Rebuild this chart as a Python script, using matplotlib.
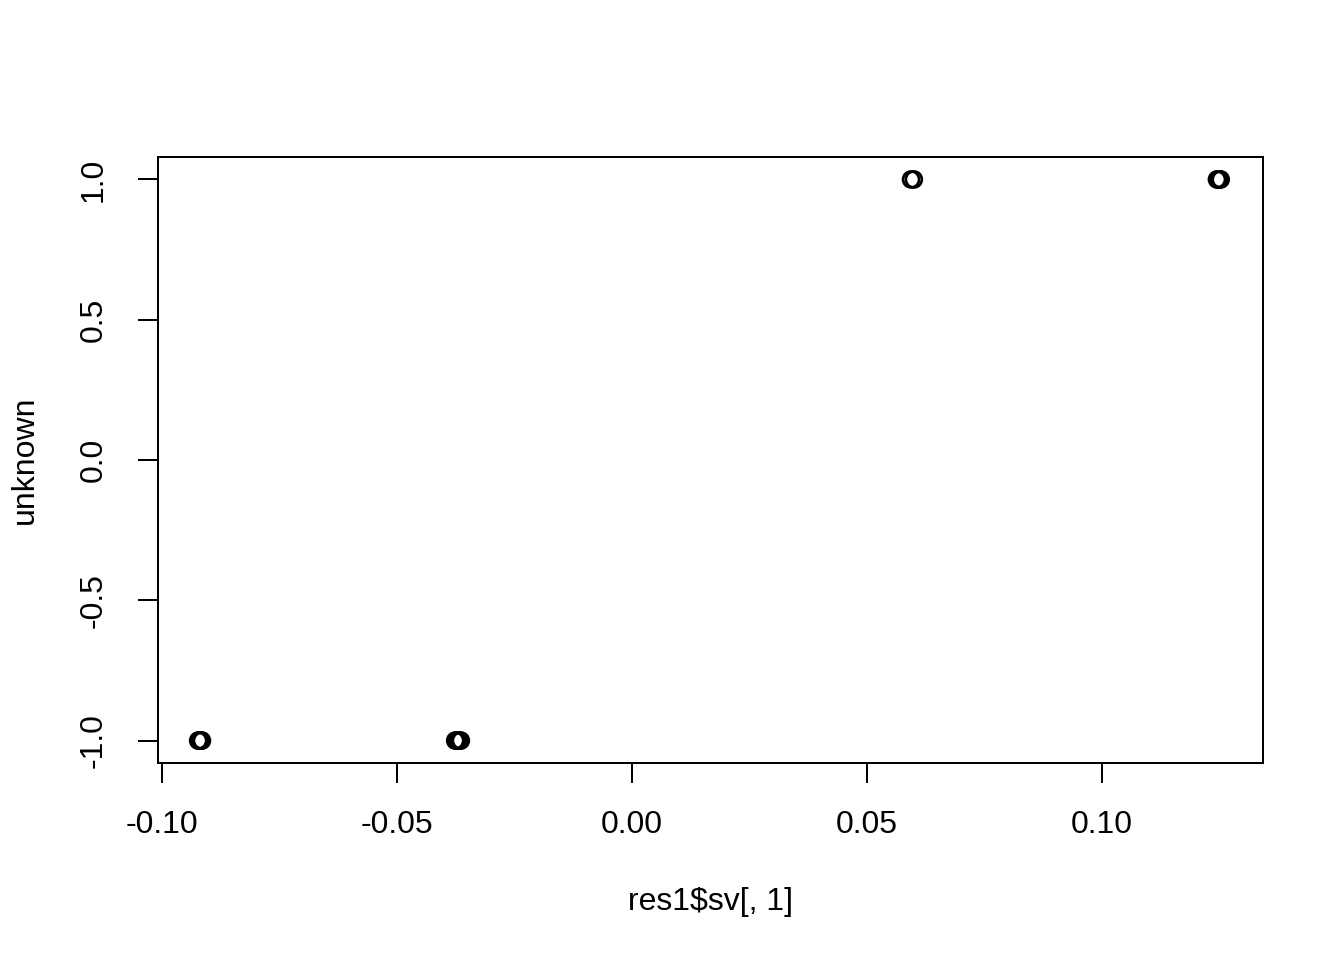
import matplotlib
matplotlib.use("Agg")
import matplotlib.pyplot as plt

# data
x_vals = [-0.0923, -0.0921, -0.0919, -0.0917, -0.0915,
          -0.0376, -0.0373, -0.0370, -0.0367, -0.0364,
          0.0594, 0.0600,
          0.1245, 0.1247, 0.1249, 0.1251, 0.1253]
y_vals = [-1, -1, -1, -1, -1,
          -1, -1, -1, -1, -1,
          1, 1,
          1, 1, 1, 1, 1]
x_ticks = [-0.10, -0.05, 0.00, 0.05, 0.10]
x_ticklabels = ["-0.10", "-0.05", "0.00", "0.05", "0.10"]
y_ticks = [-1.0, -0.5, 0.0, 0.5, 1.0]
y_ticklabels = ["-1.0", "-0.5", "0.0", "0.5", "1.0"]
x_label = "res1\\$sv[, 1]"
y_label = "unknown"

plt.rcParams['font.family'] = ['Liberation Sans', 'DejaVu Sans']
dpi = 192
fig = plt.figure(figsize=(1344 / dpi, 960 / dpi), dpi=dpi)
W, H = 1344, 960
L, R, T, B = 158, 1263, 157, 763
ax = fig.add_axes([L / W, 1 - B / H, (R - L) / W, (B - T) / H])

ax.scatter(x_vals, y_vals, s=36, facecolors='none', edgecolors='black', linewidths=1.0, zorder=3)

ax.set_xlim(-0.10085, 0.1343)
ax.set_ylim(-1.08, 1.08)
ax.set_xticks(x_ticks)
ax.set_xticklabels(x_ticklabels)
ax.set_yticks(y_ticks)
ax.set_yticklabels(y_ticklabels, rotation=90, va='center')
ax.tick_params(axis='both', length=7.5, width=0.75, labelsize=12, pad=10, direction='out', colors='black')
ax.tick_params(axis='y', pad=11)
for sp in ax.spines.values():
    sp.set_linewidth(0.75)

fig.text((L + R) / 2 / W, 1 - 902 / H, x_label, ha='center', va='center', fontsize=12)
fig.text(25 / W, 1 - 460 / H, y_label, ha='center', va='center', rotation=90, fontsize=12)

fig.savefig("out.png", dpi=dpi, facecolor='white')
